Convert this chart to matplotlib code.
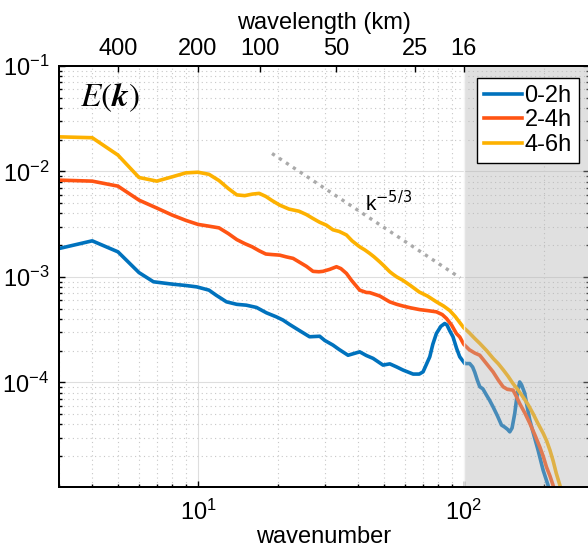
import numpy as np
import matplotlib
matplotlib.use('Agg')
import matplotlib.pyplot as plt
from matplotlib.ticker import NullLocator, LogLocator

plt.rcParams['font.family'] = ['Liberation Sans', 'DejaVu Sans']
plt.rcParams['font.size'] = 17
plt.rcParams['axes.unicode_minus'] = False

# spectra (wavenumber, energy)
k_04_06 = [3, 4, 5, 6, 7, 8, 9, 10, 11, 12, 13, 14, 15, 16, 17, 18, 19, 20.3, 22, 24,
           25.6, 27, 28.7, 30.4, 32.2, 34, 36.2, 38, 40.6, 42.5, 44.3, 46, 48.3, 50, 52.7,
           54.2, 56, 59, 63, 68, 73, 79, 84, 88.6, 93, 96.6, 100, 105, 110, 115, 122, 129,
           135, 141, 147, 153, 160, 167, 175, 182, 190, 199, 205, 211, 217, 223, 230, 233]
E_04_06 = [0.0213, 0.0209, 0.0143, 0.00877, 0.0081, 0.0089, 0.0097, 0.00984, 0.0094, 0.0082,
           0.0069, 0.0060, 0.0059, 0.0061, 0.0062, 0.0058, 0.0053, 0.0048, 0.0044, 0.0042,
           0.0039, 0.0036, 0.0033, 0.0031, 0.0028, 0.0027, 0.0025, 0.0022, 0.00193, 0.0018,
           0.00167, 0.00155, 0.00139, 0.00128, 0.00112, 0.00106, 0.0010, 0.00093, 0.00083,
           0.00072, 0.00066, 0.00058, 0.00053, 0.00048, 0.00042, 0.00037, 0.00033, 0.000295,
           0.000261, 0.000234, 0.0002, 0.000169, 0.00015, 0.000131, 0.000114, 9.8e-5, 8.5e-5,
           7.3e-5, 6.1e-5, 5.1e-5, 4.1e-5, 3.3e-5, 2.8e-5, 2.28e-5, 1.8e-5, 1.37e-5, 1.06e-5,
           0.95e-5]

k_02_04 = [3, 4, 5, 6, 7, 8, 9, 10, 11, 12, 13, 14, 15, 16, 17, 18, 19, 20.3, 21.5, 22.8,
           24.1, 25.6, 27.1, 28.5, 29.5, 31.3, 33.2, 34.5, 36.2, 37.8, 40.6, 43, 44.3, 48.3,
           52.7, 56, 59.1, 63, 68.3, 73, 78.9, 83, 86.1, 90, 93.9, 96.6, 100, 105, 110, 114.9,
           121.7, 128.9, 135, 140.6, 146, 153.3, 158, 162.4, 170, 177.2, 185, 193.2, 199,
           204.7, 211, 216.8, 220]
E_02_04 = [0.00828, 0.0081, 0.00726, 0.00535, 0.0045, 0.00386, 0.00344, 0.00315, 0.00303,
           0.00292, 0.00258, 0.00226, 0.00207, 0.00193, 0.00177, 0.00165, 0.00163, 0.00161,
           0.00155, 0.0015, 0.00138, 0.00126, 0.00113, 0.00112, 0.00113, 0.00118, 0.00125,
           0.0012, 0.00108, 0.00093, 0.00075, 0.000713, 0.00071, 0.00066, 0.00058, 0.00055,
           0.00053, 0.00051, 0.00049, 0.00048, 0.000467, 0.00044, 0.000404, 0.00035, 0.00029,
           0.00027, 0.00023, 0.000204, 0.00019, 0.000181, 0.000151, 0.000126, 0.000105, 9.1e-5,
           8.6e-5, 8.45e-5, 7.3e-5, 6.3e-5, 5.1e-5, 4.1e-5, 3.2e-5, 2.45e-5, 2.0e-5, 1.58e-5,
           1.3e-5, 1.06e-5, 0.95e-5]

k_00_02 = [3, 4, 5, 6, 6.8, 8, 9, 9.9, 11, 11.7, 12.8, 14, 15.2, 16.6, 18.1, 19.7, 20.9, 22.1,
           24.1, 26.3, 28.7, 30, 32.2, 34, 36.7, 40.6, 43, 45.6, 49.7, 52.7, 56, 59.1, 64.5, 68,
           70.3, 72.5, 74.5, 76.5, 78.9, 82, 84.8, 86.5, 88.5, 91.1, 94, 96.6, 100.9, 105.3,
           108, 110, 112.5, 114.9, 118, 121.7, 125, 128.9, 134, 138.7, 142, 146, 149, 152,
           155.6, 159, 162.4, 165, 169.6, 173, 177.2, 184, 190.4, 198.8, 207.6, 210]
E_00_02 = [0.00186, 0.0022, 0.00173, 0.0011, 0.0009, 0.000855, 0.00083, 0.000805, 0.00075,
           0.000672, 0.000581, 0.00055, 0.00054, 0.000514, 0.000457, 0.000419, 0.00039,
           0.000355, 0.00031, 0.000271, 0.000274, 0.00025, 0.000226, 0.000205, 0.000181,
           0.000195, 0.00018, 0.000169, 0.000146, 0.00015, 0.00014, 0.000131, 0.00012, 0.00012,
           0.000126, 0.00015, 0.000175, 0.00023, 0.000291, 0.00034, 0.000362, 0.00035, 0.00031,
           0.000271, 0.00021, 0.000175, 0.000151, 0.000151, 0.00014, 0.000125, 0.000105, 9.1e-5,
           8.7e-5, 7.6e-5, 6.8e-5, 5.87e-5, 4.8e-5, 3.94e-5, 3.8e-5, 3.6e-5, 3.4e-5, 3.7e-5,
           5.1e-5, 7.8e-5, 1.01e-4, 9.5e-5, 7.9e-5, 6.0e-5, 4.4e-5, 3.1e-5, 2.28e-5, 1.48e-5,
           1.06e-5, 0.95e-5]

labels = ['0-2h', '2-4h', '4-6h']
colors = ['#0072BD', '#FF5413', '#FDB100']

# k^-5/3 reference line
ref_k = [19, 97]
ref_E = [0.0148, 0.00098]

# top axis: wavelength labels and their wavenumber positions
wl_k = [5, 10, 17.06, 33.2, 65.5, 100]
wl_labels = ['400', '200', '100', '50', '25', '16']

fig = plt.figure(figsize=(5.88, 5.52), dpi=100)
ax = fig.add_axes([59/588, 65/552, 530/588, 421/552])

ax.plot(k_00_02, E_00_02, c=colors[0], lw=2.6, label=labels[0], solid_joinstyle='round')
ax.plot(k_02_04, E_02_04, c=colors[1], lw=2.6, label=labels[1], solid_joinstyle='round')
ax.plot(k_04_06, E_04_06, c=colors[2], lw=2.6, label=labels[2], solid_joinstyle='round')
ax.plot(ref_k, ref_E, c='#aaaaaa', lw=2.4, ls=(0, (1, 1.5)))

ax.set_xscale('log')
ax.set_yscale('log')
ax.set_xlim(3, 296)
ax.set_ylim(1.02e-5, 1e-1)
ax.set_yticks([1e-4, 1e-3, 1e-2, 1e-1])
ax.yaxis.set_minor_locator(LogLocator(base=10, subs=np.arange(2, 10)))

# shaded region beyond k=100
ax.axvspan(100, 296, color=(0.7, 0.7, 0.7), alpha=0.4, lw=0, zorder=3)
ax.axvline(100, c='white', lw=1, alpha=0.8, zorder=3)

ax.grid(True, which='major', color='#dedede', lw=0.8, ls='-')
ax.grid(True, which='minor', color='#c8c8c8', lw=0.8, ls=(0, (1, 3)))
ax.set_axisbelow(True)

ax.tick_params(which='both', direction='in', right=True, top=False, width=1)
ax.tick_params(which='major', length=4.5, pad=7)
ax.tick_params(axis='x', which='major', pad=9)
ax.tick_params(which='minor', length=2.5)
for s in ax.spines.values():
    s.set_linewidth(1.4)
ax.set_xlabel('wavenumber', labelpad=1)

ax.text(0.04, 0.905, r'$E(\boldsymbol{k})$', transform=ax.transAxes, fontsize=24,
        math_fontfamily='stix', va='baseline')
ax.text(42.4, 0.00424, r'k$^{-5/3}$', fontsize=15, va='baseline')

leg = ax.legend(loc='upper right', bbox_to_anchor=(0.981, 0.9715), borderaxespad=0,
                fancybox=False, edgecolor='black', framealpha=1, fontsize=17,
                handlelength=1.6, handletextpad=0.1, labelspacing=0.1, borderpad=0.3)
leg.get_frame().set_linewidth(1.0)
leg.set_zorder(5)

ax2 = ax.twiny()
ax2.set_xscale('log')
ax2.set_xlim(ax.get_xlim())
ax2.set_xticks(wl_k)
ax2.set_xticklabels(wl_labels)
ax2.xaxis.set_minor_locator(NullLocator())
ax2.tick_params(direction='in', length=4.5, width=1, pad=4)
for s in ax2.spines.values():
    s.set_linewidth(1.4)
ax2.set_xlabel('wavelength (km)', labelpad=7)

fig.savefig('out.png', dpi=100)
